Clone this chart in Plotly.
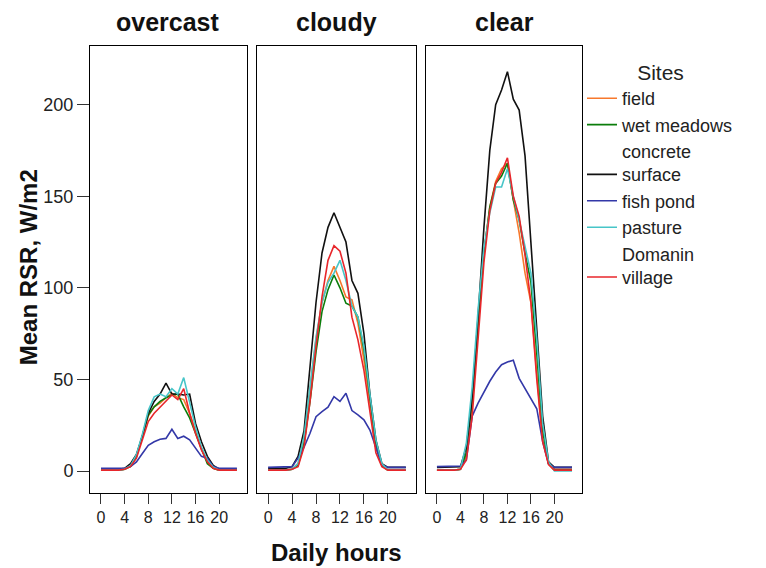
import plotly.graph_objects as go

# Data: mean RSR (W/m2) by hour of day, per site and sky condition
hours = list(range(24))
conditions = ['overcast', 'cloudy', 'clear']
sites = ['field', 'wet meadows', 'concrete<br>surface', 'fish pond', 'pasture', 'Domanin<br>village']

overcast_field = [0.5, 0.5, 0.5, 0.5, 1, 2.5, 8, 19, 30, 35, 37, 40, 42.5, 40, 39, 31.5, 22, 12, 5, 1.5, 0.5, 0.5, 0.5, 0.5]
overcast_wet = [0.5, 0.5, 0.5, 0.5, 1, 2.5, 8, 19, 30.5, 35, 38, 40, 41.5, 42, 35, 29, 20.5, 11.5, 4, 1.5, 0.5, 0.5, 0.5, 0.5]
overcast_concrete = [1, 1, 1, 1, 1.5, 4, 9, 19, 31.5, 38, 42, 48, 42, 42, 41.5, 42, 26, 16, 8, 3, 1, 1, 1, 1]
overcast_fish = [1.5, 1.5, 1.5, 1.5, 1.5, 2.4, 5, 9.6, 14, 16, 17.3, 17.8, 22.8, 17.8, 19, 17, 12.4, 8, 7, 2.4, 1.5, 1.5, 1.5, 1.5]
overcast_pasture = [0.5, 0.5, 0.5, 0.5, 1, 3, 9, 20, 33, 40.5, 42, 40.5, 45, 42, 51, 37, 24, 13, 6, 2, 0.5, 0.5, 0.5, 0.5]
overcast_village = [0.5, 0.5, 0.5, 0.5, 1, 2.5, 7, 17, 27, 31.5, 35, 38, 41.5, 39, 45, 31.5, 20.5, 11.5, 5, 1.5, 0.5, 0.5, 0.5, 0.5]

cloudy_field = [0.5, 0.5, 0.5, 0.5, 1, 4, 18, 45, 72, 92, 104, 111.7, 104, 95, 93.4, 80.7, 60.6, 37, 13, 3, 0.5, 0.5, 0.5, 0.5]
cloudy_wet = [0.5, 0.5, 0.5, 0.5, 1, 3, 15, 38, 65, 87, 99, 107, 100, 91.6, 90, 84, 66, 40.6, 15, 3, 0.5, 0.5, 0.5, 0.5]
cloudy_concrete = [1.5, 1.5, 1.5, 1.5, 2.4, 8, 22, 55, 92, 119, 133, 141, 133.5, 125, 104, 97, 75, 42, 17, 4, 2, 2, 2, 2]
cloudy_fish = [2, 2, 2, 2, 2.4, 7, 13, 20.6, 29.7, 32.4, 34.8, 40.6, 38, 42.4, 33, 30.6, 27.9, 22.4, 12.4, 3.3, 2, 2, 2, 2]
cloudy_pasture = [0.5, 0.5, 0.5, 0.5, 1, 4, 19, 46, 73, 92, 103, 108, 115, 104, 90, 84, 68, 42, 17, 4, 0.5, 0.5, 0.5, 0.5]
cloudy_village = [0.5, 0.5, 0.5, 0.5, 1, 2.4, 13, 38, 68, 95, 115, 123, 120, 108, 84, 71.6, 55, 33, 10, 2.4, 0.5, 0.5, 0.5, 0.5]

clear_field = [0.5, 0.5, 0.5, 0.5, 1, 8, 36, 78, 119, 144, 158, 165, 168, 148, 130, 108, 92, 53, 17, 4, 1, 1, 1, 1]
clear_wet = [0.5, 0.5, 0.5, 0.5, 1, 10, 39, 81, 119, 144, 157, 161, 168, 148, 137, 119, 103, 64, 22, 4, 0.5, 0.5, 0.5, 0.5]
clear_concrete = [2, 2, 2, 2, 2.4, 13, 40, 84, 133, 175, 200, 208, 218, 203, 197, 172, 125, 74, 30, 5, 2, 2, 2, 2]
clear_fish = [2.4, 2.4, 2.4, 2.4, 2.7, 6, 30, 37, 43, 49, 54, 58, 59.5, 60.5, 50.6, 45, 39.7, 34, 16, 4, 2, 2, 2, 2]
clear_pasture = [0.5, 0.5, 0.5, 0.5, 1, 15, 46, 88, 122, 141, 155, 155, 165, 150, 137, 122, 108, 72, 26, 5, 0, 0, 0, 0]
clear_village = [0.5, 0.5, 0.5, 0.5, 1, 6, 30, 72, 114, 142, 157, 163, 171, 150, 139, 118, 92, 50, 16, 3.5, 0.5, 0.5, 0.5, 0.5]

data = {
    'overcast': [overcast_field, overcast_wet, overcast_concrete, overcast_fish, overcast_pasture, overcast_village],
    'cloudy': [cloudy_field, cloudy_wet, cloudy_concrete, cloudy_fish, cloudy_pasture, cloudy_village],
    'clear': [clear_field, clear_wet, clear_concrete, clear_fish, clear_pasture, clear_village],
}

# Chart settings
colors = ['#F7782C', '#0B7D0B', '#111111', '#3338A8', '#47C5C8', '#E8262B']
font_family = 'Liberation Sans, Arial, sans-serif'
domains = [[0.0, 0.319], [0.3394, 0.6626], [0.683, 1.0]]

fig = go.Figure()
for p, cond in enumerate(conditions):
    ax = '' if p == 0 else str(p + 1)
    for i in range(len(sites)):
        fig.add_trace(go.Scatter(x=hours, y=data[cond][i], mode='lines', name=sites[i],
                                 line=dict(color=colors[i], width=1.6),
                                 showlegend=(p == 0),
                                 xaxis='x' + ax, yaxis='y' + ax))

# Axes: boxed panels, shared scales
for p in range(3):
    ax = '' if p == 0 else str(p + 1)
    fig.layout['xaxis' + ax] = dict(domain=domains[p], range=[-1.86, 24.7], anchor='y' + ax,
                                    tickvals=[0, 4, 8, 12, 16, 20], ticks='outside', ticklen=10,
                                    tickcolor='#333', showline=True, linecolor='black', linewidth=1,
                                    mirror=True, showgrid=False, zeroline=False,
                                    tickfont=dict(size=16, color='#222'))
    fig.layout['yaxis' + ax] = dict(range=[-12, 232], anchor='x' + ax,
                                    tickvals=[0, 50, 100, 150, 200],
                                    ticks='outside' if p == 0 else '', ticklen=12, tickcolor='#333',
                                    showticklabels=(p == 0), showline=True, linecolor='black',
                                    linewidth=1, mirror=True, showgrid=False, zeroline=False,
                                    tickfont=dict(size=18, color='#222'))

# Panel titles and axis titles
annotations = []
for p, cond in enumerate(conditions):
    annotations.append(dict(text=cond, x=sum(domains[p]) / 2, y=1.0, xref='paper', yref='paper',
                            xanchor='center', yanchor='bottom', yshift=8, showarrow=False,
                            font=dict(size=25, weight='bold', color='#111')))
annotations.append(dict(text='Daily hours', x=0.5, y=-0.132, xref='paper', yref='paper',
                        xanchor='center', yanchor='middle', showarrow=False,
                        font=dict(size=24, weight='bold', color='#111')))
annotations.append(dict(text='Mean RSR, W/m2', x=-0.126, y=0.505, xref='paper', yref='paper',
                        xanchor='center', yanchor='middle', textangle=-90, showarrow=False,
                        font=dict(size=24, weight='bold', color='#111')))

# page has an 8px body margin, so the figure is drawn 8px smaller
fig.update_layout(width=758, height=560, margin=dict(l=82, r=184, t=38, b=75),
                  plot_bgcolor='white', paper_bgcolor='white',
                  font=dict(family=font_family, color='#222'),
                  annotations=annotations,
                  legend=dict(x=1.0, xanchor='left', y=0.985, yanchor='top',
                              bgcolor='rgba(0,0,0,0)', tracegroupgap=0,
                              font=dict(size=18, color='#222'), valign='bottom',
                              title=dict(text='Sites', side='top center', font=dict(size=21))))

fig.write_html("out.html")
